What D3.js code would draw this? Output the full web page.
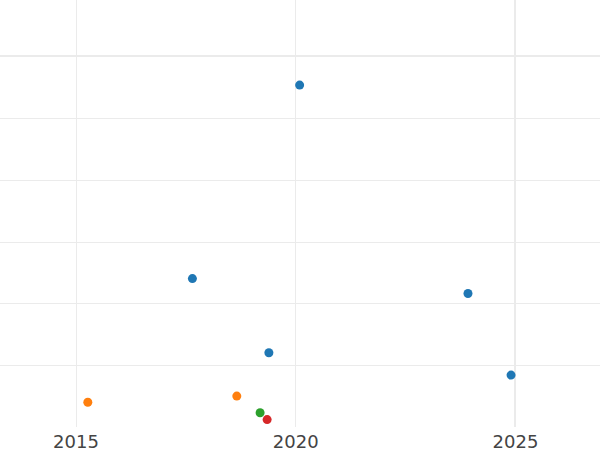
<!DOCTYPE html>
<html>
<head>
<meta charset="utf-8">
<script src="https://cdn.jsdelivr.net/npm/d3@7"></script>
<style>
  body { margin: 0; background: #fff; }
  svg { display: block; }
</style>
</head>
<body>
<div id="chart"></div>
<script>
"use strict";

// point data
const years  = [2020.10, 2017.66, 2023.93, 2019.40, 2024.91, 2015.28, 2018.67, 2019.20, 2019.36];
const values = [-0.47, -3.60, -3.84, -4.80, -5.16, -5.60, -5.50, -5.77, -5.88];
const groups = ["a", "a", "a", "a", "a", "b", "b", "c", "d"];
const groupNames = ["a", "b", "c", "d"];
const xTicks = [2015, 2020, 2025];
const yTicks = [0, -1, -2, -3, -4, -5];

const msm = {
    width: 600,
    height: 450,
    plotBottom: 427
};

window.onload = function () {
    let svg = d3.select("#chart")
        .append("svg")
        .attr("width", msm.width)
        .attr("height", msm.height);

    let xScale = d3.scaleLinear()
        .domain([2013.282, 2026.934])
        .range([0, msm.width]);

    let yScale = d3.scaleLinear()
        .domain([-6, 0.906])
        .range([msm.plotBottom, 0]);

    let color = d3.scaleOrdinal()
        .domain(groupNames)
        .range(["#1f77b4", "#ff7f0e", "#2ca02c", "#d62728"]);

    // vertical grid lines
    svg.append("g").selectAll("line")
        .data(xTicks)
        .enter()
        .append("line")
        .attr("x1", (d) => Math.round(xScale(d)) + (d == 2025 ? 0 : 0.5))
        .attr("x2", (d) => Math.round(xScale(d)) + (d == 2025 ? 0 : 0.5))
        .attr("y1", 0)
        .attr("y2", msm.plotBottom)
        .attr("stroke", "#ebebeb")
        .attr("stroke-width", (d) => d == 2025 ? 2 : 1);

    // horizontal grid lines, the zero line is heavier
    svg.append("g").selectAll("line")
        .data(yTicks)
        .enter()
        .append("line")
        .attr("x1", 0)
        .attr("x2", msm.width)
        .attr("y1", (d) => Math.round(yScale(d)) + (d == 0 ? 0 : 0.5))
        .attr("y2", (d) => Math.round(yScale(d)) + (d == 0 ? 0 : 0.5))
        .attr("stroke", "#ebebeb")
        .attr("stroke-width", (d) => d == 0 ? 2 : 1);

    // x axis labels only
    let xAxis = d3.axisBottom(xScale)
        .tickValues(xTicks)
        .tickFormat(d3.format("d"))
        .tickSize(0)
        .tickPadding(8);
    let gx = svg.append("g")
        .attr("transform", "translate(0," + msm.plotBottom + ")")
        .call(xAxis);
    gx.select(".domain").remove();
    gx.selectAll("text")
        .attr("dy", "0.71em")
        .style("font-family", "DejaVu Sans, sans-serif")
        .style("font-size", "18px")
        .attr("fill", "#444");

    // points
    svg.append("g").selectAll("circle")
        .data(years.map((d, i) => ({x: d, y: values[i], g: groups[i]})))
        .enter()
        .append("circle")
        .attr("cx", (d) => xScale(d.x))
        .attr("cy", (d) => yScale(d.y))
        .attr("r", 4.5)
        .attr("fill", (d) => color(d.g));
}
</script>
</body>
</html>
